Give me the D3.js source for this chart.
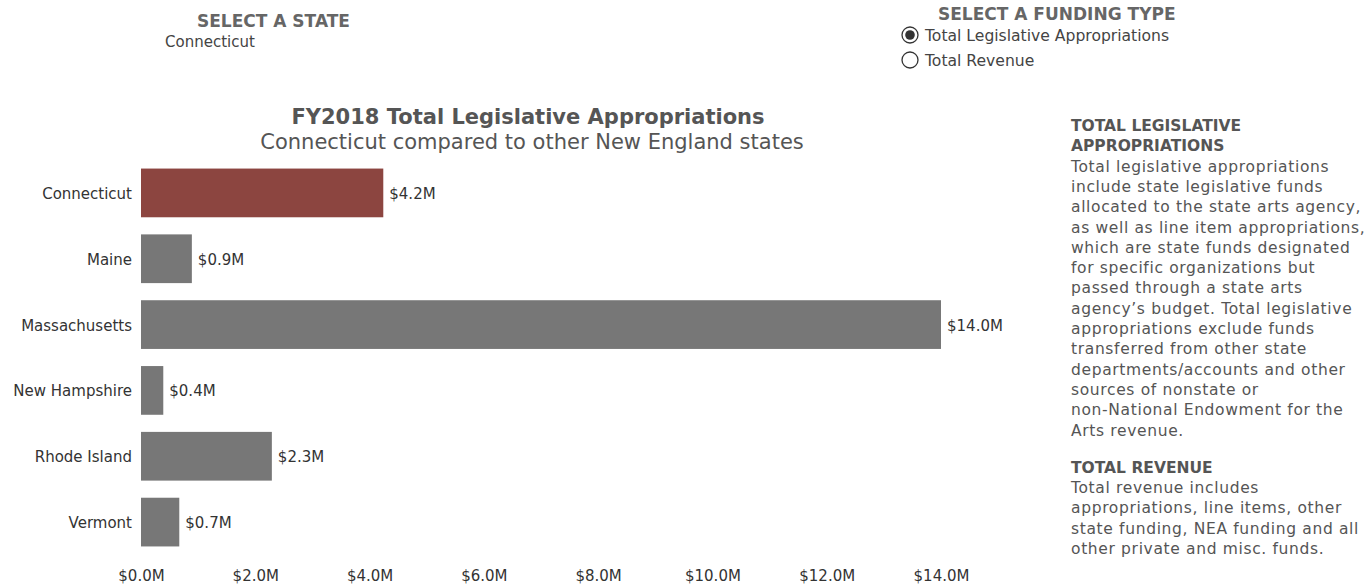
<!DOCTYPE html>
<html>
<head>
    <script src="https://d3js.org/d3.v7.min.js"></script>
    <style>
        body {margin: 0; background: #fff; font-family: "DejaVu Sans", Verdana, sans-serif;}
        svg text {font-family: "DejaVu Sans", Verdana, sans-serif;}
    </style>
</head>
<body>
    <svg width="1372" height="584"></svg>
    <script>
        // chart data
        const states = ["Connecticut", "Maine", "Massachusetts", "New Hampshire", "Rhode Island", "Vermont"];
        const appropriations = [4.24, 0.89, 14.0, 0.39, 2.29, 0.67];
        const valueLabels = ["$4.2M", "$0.9M", "$14.0M", "$0.4M", "$2.3M", "$0.7M"];
        const xTicks = [0, 2, 4, 6, 8, 10, 12, 14];
        const selected = "Connecticut";
        const fundingTypes = ["Total Legislative Appropriations", "Total Revenue"];

        const notes = [
            {head: ["TOTAL LEGISLATIVE", "APPROPRIATIONS"], body: [
                "Total legislative appropriations",
                "include state legislative funds",
                "allocated to the state arts agency,",
                "as well as line item appropriations,",
                "which are state funds designated",
                "for specific organizations but",
                "passed through a state arts",
                "agency\u2019s budget. Total legislative",
                "appropriations exclude funds",
                "transferred from other state",
                "departments/accounts and other",
                "sources of nonstate or",
                "non-National Endowment for the",
                "Arts revenue."]},
            {head: ["TOTAL REVENUE"], body: [
                "Total revenue includes",
                "appropriations, line items, other",
                "state funding, NEA funding and all",
                "other private and misc. funds."]}
        ];

        const svg = d3.select("svg");
        const data = states.map((s, i) => ({state: s, value: appropriations[i], label: valueLabels[i]}));

        // header controls
        svg.append("text").attr("x", 197).attr("y", 27)
            .attr("font-size", 17).attr("font-weight", "bold").attr("fill", "#666")
            .text("SELECT A STATE");
        svg.append("text").attr("x", 165).attr("y", 47)
            .attr("font-size", 15).attr("fill", "#444")
            .text(selected);

        svg.append("text").attr("x", 938).attr("y", 20)
            .attr("font-size", 17).attr("font-weight", "bold").attr("fill", "#666")
            .text("SELECT A FUNDING TYPE");
        fundingTypes.forEach((f, i) => {
            const cy = 35 + i * 25;
            svg.append("circle").attr("cx", 910).attr("cy", cy).attr("r", 8)
                .attr("fill", "#fff").attr("stroke", "#333").attr("stroke-width", 1.3);
            if (i === 0) {
                svg.append("circle").attr("cx", 910).attr("cy", cy).attr("r", 4.8).attr("fill", "#333");
            }
            svg.append("text").attr("x", 925).attr("y", cy + 5.5)
                .attr("font-size", 15.6).attr("fill", "#444").text(f);
        });

        // titles
        svg.append("text").attr("x", 528).attr("y", 124).attr("text-anchor", "middle")
            .attr("font-size", 21).attr("font-weight", "bold").attr("fill", "#555")
            .text("FY2018 Total Legislative Appropriations");
        svg.append("text").attr("x", 532).attr("y", 149).attr("text-anchor", "middle")
            .attr("font-size", 21).attr("fill", "#555")
            .text(selected + " compared to other New England states");

        // scales
        const x = d3.scaleLinear().domain([0, 14]).range([141, 941]);
        const y = d3.scaleBand().domain(states).range([160, 555])
            .paddingInner(0.26).paddingOuter(0.13);

        svg.selectAll(".bar")
            .data(data)
            .enter()
            .append("rect")
            .attr("class", "bar")
            .attr("x", x(0))
            .attr("y", d => y(d.state))
            .attr("width", d => x(d.value) - x(0))
            .attr("height", y.bandwidth())
            .attr("fill", d => d.state === selected ? "#8c4540" : "#777777");

        svg.selectAll(".val")
            .data(data)
            .enter()
            .append("text")
            .attr("class", "val")
            .attr("x", d => x(d.value) + 6)
            .attr("y", d => y(d.state) + y.bandwidth() / 2 + 6)
            .attr("font-size", 15).attr("fill", "#333")
            .text(d => d.label);

        // y axis labels
        const yAxis = d3.axisLeft(y).tickSize(0).tickPadding(9);
        const gy = svg.append("g").attr("transform", "translate(141,0)").call(yAxis);
        gy.select(".domain").remove();
        gy.selectAll("text").attr("font-size", 15).attr("fill", "#333").attr("dy", "0.4em");

        // x axis labels
        const xAxis = d3.axisBottom(x).tickValues(xTicks).tickSize(0).tickPadding(0)
            .tickFormat(d => "$" + d3.format(".1f")(d) + "M");
        const gx = svg.append("g").attr("transform", "translate(0,570)").call(xAxis);
        gx.select(".domain").remove();
        gx.selectAll("text").attr("font-size", 15).attr("fill", "#333");

        // notes on the right
        let ty = 131;
        notes.forEach((n, k) => {
            if (k > 0) ty += 17;
            n.head.forEach(h => {
                svg.append("text").attr("x", 1071).attr("y", ty)
                    .attr("font-size", 15.5).attr("font-weight", "bold").attr("fill", "#555").text(h);
                ty += 20.3;
            });
            n.body.forEach(b => {
                svg.append("text").attr("x", 1071).attr("y", ty)
                    .attr("font-size", 15.5).attr("letter-spacing", 0.65)
                    .attr("fill", "#555").text(b);
                ty += 20.3;
            });
        });
    </script>
</body>
</html>
